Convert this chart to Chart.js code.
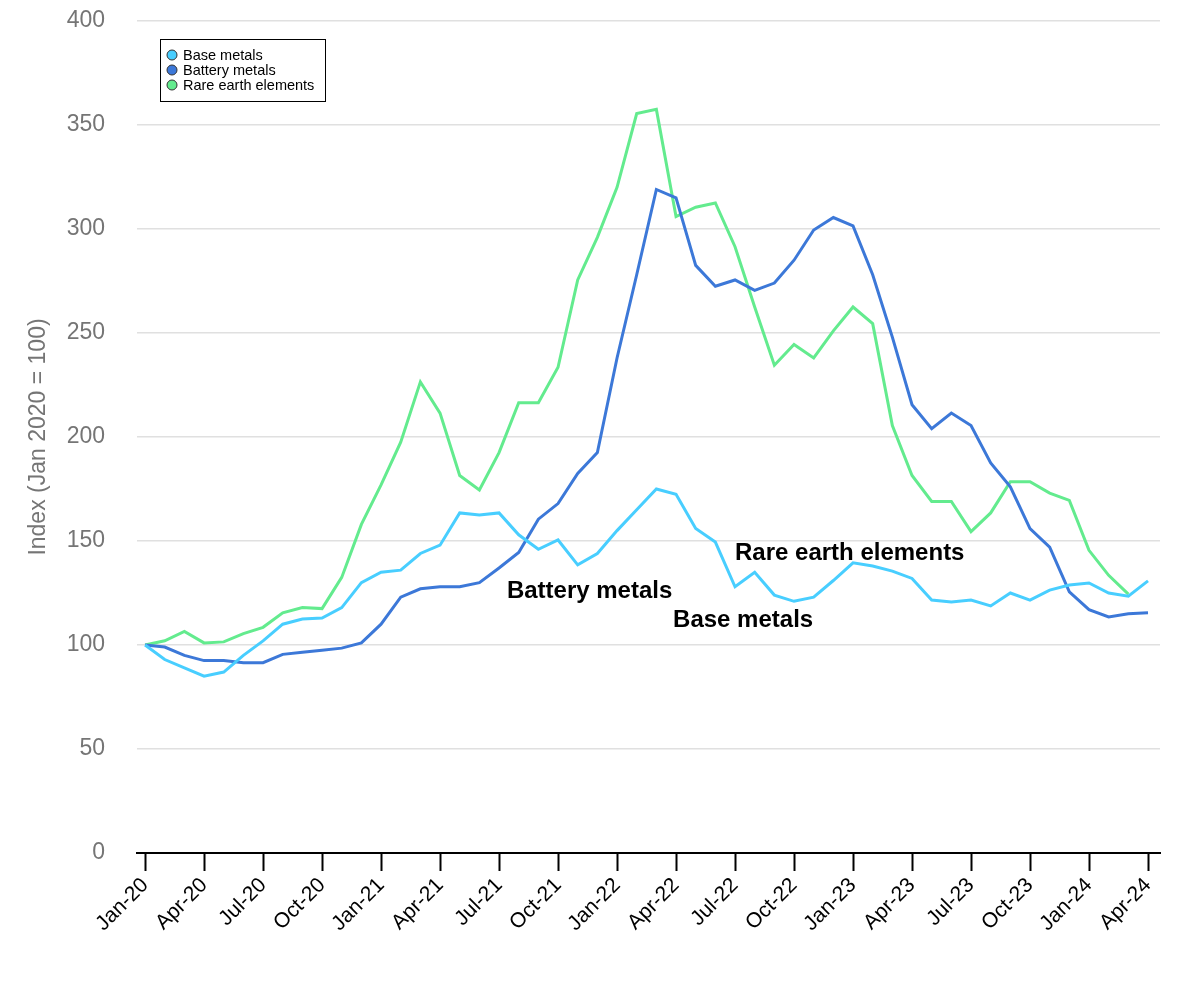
<!DOCTYPE html>
<html>
<head>
<meta charset="utf-8">
<script src="https://cdn.jsdelivr.net/npm/chart.js@4.4.1/dist/chart.umd.min.js"></script>
<style>
  html, body { margin: 0; padding: 0; background: #fff; }
  #wrap { width: 1200px; height: 1000px; }
</style>
</head>
<body>
<div id="wrap"><canvas id="c" width="1200" height="1000"></canvas></div>
<script>
const months = ['Jan-20','Feb-20','Mar-20','Apr-20','May-20','Jun-20','Jul-20','Aug-20','Sep-20','Oct-20','Nov-20','Dec-20',
  'Jan-21','Feb-21','Mar-21','Apr-21','May-21','Jun-21','Jul-21','Aug-21','Sep-21','Oct-21','Nov-21','Dec-21',
  'Jan-22','Feb-22','Mar-22','Apr-22','May-22','Jun-22','Jul-22','Aug-22','Sep-22','Oct-22','Nov-22','Dec-22',
  'Jan-23','Feb-23','Mar-23','Apr-23','May-23','Jun-23','Jul-23','Aug-23','Sep-23','Oct-23','Nov-23','Dec-23',
  'Jan-24','Feb-24','Mar-24','Apr-24'];

const baseMetals = [100,93,89,85,87,95,102,110,112.5,113,118,130,
  135,136,144,148,163.5,162.5,163.5,153,146,150.5,138.5,144,
  155,165,175,172.5,156,149.5,128,135,124,121,123,131,
  139.5,138,135.5,132,121.6,120.7,121.6,118.8,125,121.6,126.4,128.8,
  129.8,125,123.5,130.8];

const batteryMetals = [100,99,95,92.5,92.5,91.5,91.5,95.5,96.5,97.5,98.5,101,
  110,123,127,128,128,130,137,144.5,160.5,168,182.5,192.5,
  238,278,319,315,282.5,272.5,275.5,270.5,274,285,299.5,305.5,
  301.5,278,248,215.5,204,211.5,205.5,187.5,176,156,147,125.5,
  117,113.5,115,115.5];

const rareEarths = [100,102,106.5,101,101.5,105.5,108.5,115.5,118,117.5,132.5,158,
  177,197.5,226.5,211.5,181.5,174.5,192.5,216.5,216.5,233.5,275.5,296,
  320,355.5,357.5,306,310.5,312.5,291.5,262.5,234.5,244.5,238,251,
  262.5,254.5,205.5,181.5,169,169,154.5,163.5,178.5,178.5,173,169.5,
  145.5,133.5,124.5,null];

const seriesNames = ['Base metals','Battery metals','Rare earth elements'];
const yTicks = [0,50,100,150,200,250,300,350,400];
const xTickStep = 3;

const colors = ['#48CEFF','#3C78D8','#63EB8E'];
const FONT = '"Liberation Sans", Arial, sans-serif';

function toPoints(arr) { return arr.map((v, i) => ({ x: i, y: v })); }

const legendPlugin = {
  id: 'boxLegend',
  afterDraw(chart) {
    const ctx = chart.ctx;
    const x0 = 160.5, y0 = 39.5, w = 165, h = 62;
    ctx.save();
    ctx.fillStyle = '#fff';
    ctx.fillRect(x0, y0, w, h);
    ctx.strokeStyle = '#000';
    ctx.lineWidth = 1;
    ctx.strokeRect(x0, y0, w, h);
    ctx.font = '14.5px ' + FONT;
    ctx.textBaseline = 'middle';
    chart.data.datasets.forEach((ds, i) => {
      const cy = 55 + i * 15;
      ctx.beginPath();
      ctx.arc(172, cy, 5, 0, Math.PI * 2);
      ctx.fillStyle = ds.borderColor;
      ctx.fill();
      ctx.strokeStyle = '#333';
      ctx.lineWidth = 1;
      ctx.stroke();
      ctx.fillStyle = '#000';
      ctx.fillText(ds.label, 183, cy + 0.5);
    });
    ctx.restore();
  }
};

const annotations = [
  { text: 'Battery metals', x: 18.4, y: 126 },
  { text: 'Base metals', x: 26.85, y: 112 },
  { text: 'Rare earth elements', x: 30.0, y: 144 }
];

const annotationPlugin = {
  id: 'lineLabels',
  afterDatasetsDraw(chart) {
    const ctx = chart.ctx;
    const xs = chart.scales.x, ys = chart.scales.y;
    ctx.save();
    ctx.font = 'bold 24px ' + FONT;
    ctx.fillStyle = '#000';
    ctx.textBaseline = 'middle';
    ctx.textAlign = 'left';
    annotations.forEach(a => {
      ctx.fillText(a.text, xs.getPixelForValue(a.x), ys.getPixelForValue(a.y));
    });
    ctx.restore();
  }
};

new Chart(document.getElementById('c'), {
  type: 'line',
  data: {
    datasets: [
      { label: seriesNames[0], data: toPoints(baseMetals), borderColor: colors[0] },
      { label: seriesNames[1], data: toPoints(batteryMetals), borderColor: colors[1] },
      { label: seriesNames[2], data: toPoints(rareEarths), borderColor: colors[2] }
    ].map(d => Object.assign(d, { borderWidth: 3, pointRadius: 0, tension: 0, fill: false, spanGaps: false }))
  },
  options: {
    responsive: false,
    animation: false,
    devicePixelRatio: 1,
    layout: { padding: { left: 0, right: 40, top: 21, bottom: 0 } },
    plugins: {
      legend: { display: false },
      tooltip: { enabled: false }
    },
    scales: {
      x: {
        type: 'linear',
        min: -0.41,
        max: 51.61,
        afterBuildTicks(scale) {
          const t = [];
          for (let i = 0; i < months.length; i += xTickStep) t.push({ value: i });
          scale.ticks = t;
        },
        afterFit(scale) { scale.height = 147; },
        grid: {
          drawOnChartArea: false,
          drawTicks: true,
          tickLength: 18,
          tickColor: '#000',
          tickWidth: 2,
          color: '#000'
        },
        border: { display: true, color: '#000', width: 2 },
        ticks: {
          autoSkip: false,
          minRotation: 45,
          maxRotation: 45,
          padding: 2,
          color: '#000',
          font: { family: FONT, size: 21 },
          callback: (v) => months[v] || ''
        }
      },
      y: {
        min: 0,
        max: 400,
        afterBuildTicks(scale) { scale.ticks = yTicks.map(v => ({ value: v })); },
        afterFit(scale) { scale.width = 137; },
        grid: { color: '#e0e0e0', lineWidth: 1.5, drawTicks: true, tickLength: 30, tickColor: 'rgba(0,0,0,0)' },
        border: { display: false },
        ticks: {
          padding: 2,
          color: '#757575',
          font: { family: FONT, size: 23 }
        },
        title: {
          display: true,
          text: 'Index (Jan 2020 = 100)',
          color: '#757575',
          font: { family: FONT, size: 23 },
          padding: { top: 25, bottom: 0 }
        }
      }
    }
  },
  plugins: [annotationPlugin, legendPlugin]
});
</script>
</body>
</html>
